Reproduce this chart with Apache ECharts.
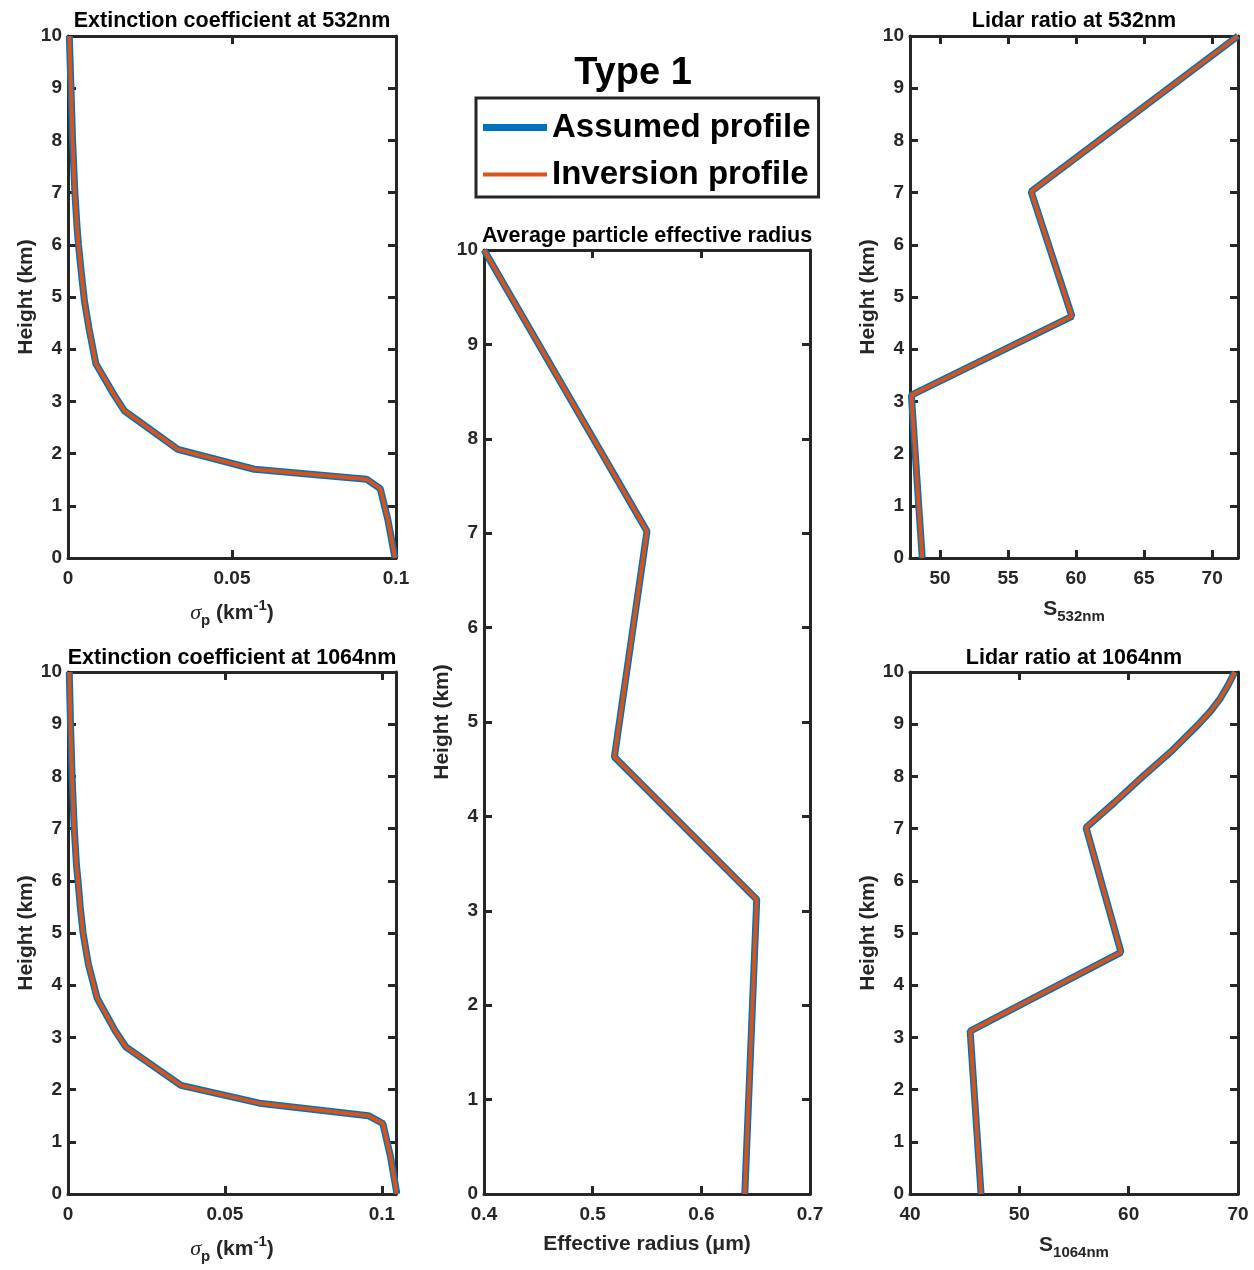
<!DOCTYPE html>
<html>
<head>
<meta charset="utf-8">
<title>Type 1</title>
<script src="https://cdn.jsdelivr.net/npm/echarts@6.0.0/dist/echarts.min.js"></script>
<style>
  html, body { margin: 0; padding: 0; background: #fff; }
  #chart { width: 1254px; height: 1270px; }
</style>
</head>
<body>
<div id="chart"></div>
<script>
// values (height in km)
var ext532Height = [0, 0.74, 1.33, 1.51, 1.70, 2.08, 2.82, 3.13, 3.72, 4.4, 4.93, 5.5, 6.0, 6.3, 7.0, 8.0, 9.0, 10];
var ext532Value = [0.0997, 0.0975, 0.0952, 0.0910, 0.0568, 0.0335, 0.0172, 0.0140, 0.0085, 0.0064, 0.0050, 0.0040, 0.0032, 0.0028, 0.0021, 0.0014, 0.0009, 0.0004];

var ext1064Height = [0, 0.73, 1.35, 1.50, 1.74, 2.08, 2.82, 3.13, 3.75, 4.4, 5.0, 5.5, 6.0, 6.3, 7.0, 8.0, 9.0, 10];
var ext1064Value = [0.1048, 0.1027, 0.1003, 0.0957, 0.0610, 0.0360, 0.0184, 0.0150, 0.0093, 0.0065, 0.0048, 0.0039, 0.0032, 0.0027, 0.0020, 0.0013, 0.0008, 0.0004];

var radiusHeight = [0, 3.12, 4.63, 7.02, 10];
var radiusValue = [0.640, 0.651, 0.520, 0.550, 0.400];

var lidar532Height = [0, 3.12, 4.63, 7.02, 10];
var lidar532Value = [48.7, 47.9, 59.7, 56.7, 71.9];

var lidar1064Height = [0, 3.12, 4.63, 7.02, 7.5, 8.0, 8.5, 9.0, 9.25, 9.5, 9.75, 10];
var lidar1064Value = [46.5, 45.5, 59.3, 56.1, 58.7, 61.3, 64.0, 66.4, 67.5, 68.4, 69.1, 69.7];

var seriesNames = ['Assumed profile', 'Inversion profile'];

var axisColor = '#262626';
var font = "'Liberation Sans', Arial, Helvetica, sans-serif";

function pairs(xs, hs) {
  return hs.map(function (h, i) { return [xs[i], h]; });
}

function tickFmt(step, digits) {
  return function (v) {
    var k = v / step;
    return Math.abs(k - Math.round(k)) < 1e-6 ? String(+v.toFixed(digits)) : '';
  };
}

var subRich = {
  t: { fontSize: 21, fontWeight: 'bold', fontFamily: font, color: axisColor, lineHeight: 30 },
  i: { fontSize: 22, fontStyle: 'italic', fontFamily: "'Liberation Serif', 'DejaVu Serif', serif", color: axisColor, lineHeight: 30 },
  sub: { fontSize: 15, fontWeight: 'bold', fontFamily: font, color: axisColor, lineHeight: 16, verticalAlign: 'bottom' },
  sup: { fontSize: 15, fontWeight: 'bold', fontFamily: font, color: axisColor, lineHeight: 16, verticalAlign: 'top' }
};

var panels = [
  { grid: { left: 68, top: 36, width: 328, height: 522 }, x: ext532Value, h: ext532Height,
    min: 0, max: 0.1, interval: 0.05, fmt: tickFmt(0.05, 2), gap: 40,
    name: '{i|σ}{sub|p}{t| (km}{sup|-1}{t|)}' },
  { grid: { left: 68, top: 672, width: 328, height: 522 }, x: ext1064Value, h: ext1064Height,
    min: 0, max: 0.1045, interval: 0.05, fmt: tickFmt(0.05, 2), gap: 40,
    name: '{i|σ}{sub|p}{t| (km}{sup|-1}{t|)}' },
  { grid: { left: 484, top: 250, width: 326, height: 944 }, x: radiusValue, h: radiusHeight,
    min: 0.4, max: 0.7, interval: 0.1, fmt: tickFmt(0.1, 1), gap: 35,
    name: '{t|Effective radius (μm)}' },
  { grid: { left: 910, top: 36, width: 328, height: 522 }, x: lidar532Value, h: lidar532Height,
    min: 47.8, max: 71.9, interval: null, fmt: tickFmt(5, 0), gap: 36,
    name: '{t|S}{sub|532nm}' },
  { grid: { left: 910, top: 672, width: 328, height: 522 }, x: lidar1064Value, h: lidar1064Height,
    min: 40, max: 70, interval: 10, fmt: tickFmt(10, 0), gap: 36,
    name: '{t|S}{sub|1064nm}' }
];

var titles = [
  { text: 'Extinction coefficient at 532nm', x: 232, y: 21 },
  { text: 'Extinction coefficient at 1064nm', x: 232, y: 658 },
  { text: 'Average particle effective radius', x: 647, y: 236 },
  { text: 'Lidar ratio at 532nm', x: 1074, y: 21 },
  { text: 'Lidar ratio at 1064nm', x: 1074, y: 658 }
];

var grids = [], xAxes = [], yAxes = [], series = [];

panels.forEach(function (p, i) {
  grids.push(p.grid);
  var line = { show: true, onZero: false, lineStyle: { color: axisColor, width: 3 } };
  var tick = { show: true, inside: true, length: 8, lineStyle: { color: axisColor, width: 3 } };
  var label = { color: axisColor, fontSize: 19, fontWeight: 'bold', fontFamily: font };

  var xb = {
    type: 'value', gridIndex: i, position: 'bottom', min: p.min, max: p.max,
    axisLine: line, axisTick: tick, splitLine: { show: false },
    axisLabel: Object.assign({ margin: 11, formatter: p.fmt }, label),
    name: p.name, nameLocation: 'middle', nameGap: p.gap,
    nameTextStyle: { rich: subRich }
  };
  var xt = {
    type: 'value', gridIndex: i, position: 'top', min: p.min, max: p.max,
    axisLine: line, axisTick: tick, splitLine: { show: false }, axisLabel: { show: false }
  };
  if (p.interval) {
    xb.interval = p.interval;
    xt.interval = p.interval;
  } else {
    xb.splitNumber = 5;
    xt.splitNumber = 5;
  }
  xAxes.push(xb, xt);

  yAxes.push({
    type: 'value', gridIndex: i, position: 'left', min: 0, max: 10, interval: 1,
    axisLine: line, axisTick: tick, splitLine: { show: false },
    axisLabel: Object.assign({ margin: 6 }, label),
    name: 'Height (km)', nameLocation: 'middle', nameGap: 31,
    nameTextStyle: { color: axisColor, fontSize: 21, fontWeight: 'bold', fontFamily: font }
  }, {
    type: 'value', gridIndex: i, position: 'right', min: 0, max: 10, interval: 1,
    axisLine: line, axisTick: tick, splitLine: { show: false }, axisLabel: { show: false }
  });

  var data = pairs(p.x, p.h);
  series.push({
    name: seriesNames[0], type: 'line', xAxisIndex: 2 * i, yAxisIndex: 2 * i,
    data: data, symbol: 'none', color: '#0072BD',
    lineStyle: { color: '#0072BD', width: 7 }, z: 2
  }, {
    name: seriesNames[1], type: 'line', xAxisIndex: 2 * i, yAxisIndex: 2 * i,
    data: data, symbol: 'none', color: '#D95319',
    lineStyle: { color: '#D95319', width: 4 }, z: 3
  });
});

var graphics = titles.map(function (t) {
  return {
    type: 'text', x: t.x, y: t.y,
    style: { text: t.text, align: 'center', verticalAlign: 'middle', fill: '#000',
      font: 'bold 21.5px ' + font }
  };
});
graphics.push({
  type: 'text', x: 633, y: 74,
  style: { text: 'Type 1', align: 'center', verticalAlign: 'middle', fill: '#000',
    font: 'bold 38px ' + font }
});

var chart = echarts.init(document.getElementById('chart'));
chart.setOption({
  animation: false,
  backgroundColor: '#fff',
  grid: grids,
  xAxis: xAxes,
  yAxis: yAxes,
  legend: {
    orient: 'vertical', left: 476, top: 98,
    padding: [13, 8, 6, 7], itemGap: 14,
    itemWidth: 64, itemHeight: 7,
    borderColor: axisColor, borderWidth: 3,
    selectedMode: false,
    textStyle: { color: '#000', fontSize: 33, fontWeight: 'bold', fontFamily: font },
    data: [
      { name: seriesNames[0], icon: 'path://M0,0H64V7H0Z' },
      { name: seriesNames[1], icon: 'path://M0,0H64V4H0Z' }
    ]
  },
  graphic: graphics,
  series: series
});
</script>
</body>
</html>
